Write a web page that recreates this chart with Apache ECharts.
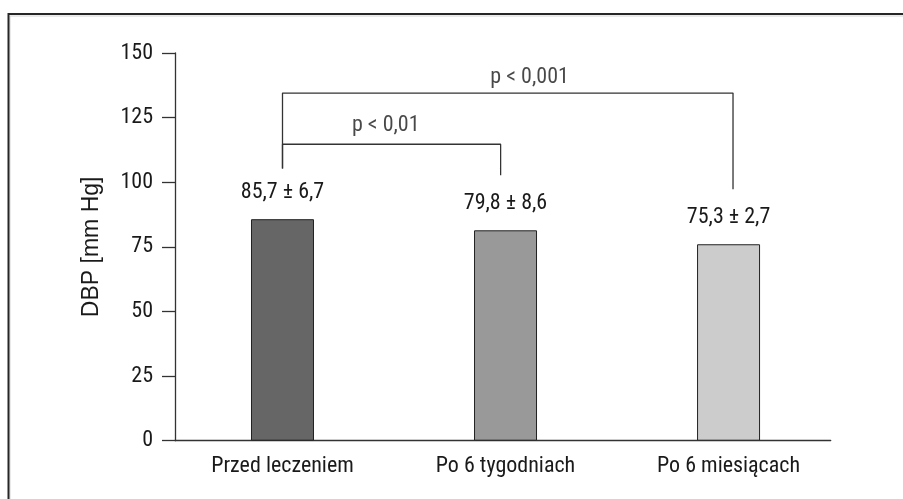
<!DOCTYPE html>
<html>
<head>
<meta charset="utf-8">
<script src="https://cdn.jsdelivr.net/npm/echarts@6/dist/echarts.min.js"></script>
<style>
  html, body { margin: 0; padding: 0; background: #fff; }
  #chart { width: 903px; height: 499px; }
</style>
</head>
<body>
<div id="chart"></div>
<script>
const categories = ['Przed leczeniem', 'Po 6 tygodniach', 'Po 6 miesiącach'];
const barValues = [85.7, 81.4, 76.0];
const meanSd = ['85,7 ± 6,7', '79,8 ± 8,6', '75,3 ± 2,7'];
const barColors = ['#666666', '#999999', '#cccccc'];

// significance brackets (data coords)
const pTexts = ['p < 0,01', 'p < 0,001'];
const bracketFrom = [0, 0];
const bracketTo = [0.978, 2.02];
const bracketTop = [114.7, 134.5];
const bracketFromEnd = [105.3, 105.3];
const bracketToEnd = [102.7, 97.3];
const pTextX = [0.463, 1.108];
const pTextY = [122.0, 140.6];

const narrow = "'Liberation Sans Narrow', 'Roboto Condensed', 'DejaVu Sans Condensed', sans-serif";

let myChart = echarts.init(document.getElementById('chart'));

const bracketSeries = pTexts.map((t, i) => ({
  name: 'bracket-' + i,
  type: 'line',
  symbol: 'none',
  silent: true,
  animation: false,
  lineStyle: { color: '#333', width: 1.3 },
  data: [
    [bracketFrom[i], bracketFromEnd[i]],
    [bracketFrom[i], bracketTop[i]],
    [bracketTo[i], bracketTop[i]],
    [bracketTo[i], bracketToEnd[i]],
  ],
}));

let option = {
  animation: false,
  graphic: [
    {
      type: 'rect',
      shape: { x: 10, y: 16, width: 1000, height: 600 },
      style: { fill: 'none', stroke: '#d4d4d4', lineWidth: 1 },
    },
    {
      type: 'rect',
      shape: { x: 8.5, y: 14, width: 1000, height: 600 },
      style: { fill: 'none', stroke: '#262626', lineWidth: 2 },
    },
  ],
  grid: {
    left: 175,
    right: 72.3,
    top: 53,
    bottom: 58.3,
  },
  xAxis: {
    type: 'value',
    min: -0.482,
    max: 2.458,
    splitLine: { show: false },
    axisTick: { show: false },
    axisLine: { show: true, onZero: false, lineStyle: { color: '#333', width: 1.3 } },
    axisLabel: {
      customValues: [0, 1, 2],
      formatter: v => categories[Math.round(v)],
      margin: 15,
      fontFamily: narrow,
      fontSize: 22,
      color: '#1a1a1a',
    },
  },
  yAxis: {
    type: 'value',
    min: 0,
    max: 150,
    interval: 25,
    name: 'DBP [mm Hg]',
    nameLocation: 'middle',
    nameGap: 72,
    nameTextStyle: {
      fontFamily: "'Liberation Sans', Arial, sans-serif",
      fontSize: 23,
      color: '#1a1a1a',
    },
    splitLine: { show: false },
    axisLine: { show: true, onZero: false, lineStyle: { color: '#333', width: 1.3 } },
    axisTick: { show: true, length: 13, lineStyle: { color: '#333', width: 1.3 } },
    axisLabel: {
      margin: 22,
      fontFamily: narrow,
      fontSize: 22,
      color: '#1a1a1a',
    },
  },
  series: [
    {
      name: 'DBP',
      type: 'bar',
      barWidth: 63,
      data: barValues.map((v, i) => ({
        value: [i, v],
        itemStyle: { color: barColors[i] },
      })),
      itemStyle: { borderColor: '#222', borderWidth: 1 },
      label: {
        show: true,
        position: 'top',
        distance: 16,
        formatter: p => meanSd[p.dataIndex],
        fontFamily: narrow,
        fontSize: 22,
        color: '#1a1a1a',
      },
    },
    ...bracketSeries,
    {
      name: 'p-values',
      type: 'scatter',
      symbolSize: 1,
      silent: true,
      itemStyle: { color: 'transparent' },
      data: pTextX.map((x, i) => [x, pTextY[i]]),
      label: {
        show: true,
        position: 'inside',
        formatter: p => pTexts[p.dataIndex],
        fontFamily: narrow,
        fontSize: 22,
        color: '#1a1a1a',
      },
    },
  ],
};
myChart.setOption(option);
</script>
</body>
</html>
